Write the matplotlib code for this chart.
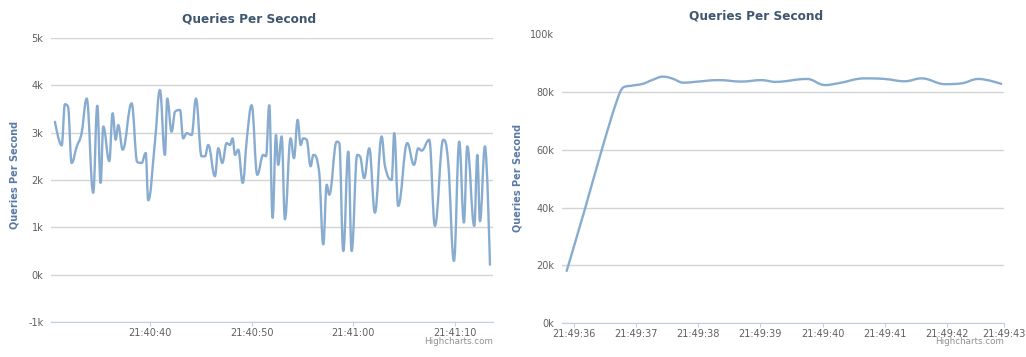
import matplotlib.pyplot as plt
from matplotlib.path import Path
from matplotlib.patches import PathPatch
from matplotlib.ticker import FuncFormatter

# Left chart: seconds after 21:40:00 and queries per second
left_time = [30.66, 31.32, 31.64, 31.94, 32.30, 32.79, 33.28, 33.78, 34.42, 34.82,
             35.15, 35.41, 36.00, 36.33, 36.63, 36.88, 37.32, 38.20, 38.75, 39.18,
             39.58, 39.83, 40.49, 40.98, 41.47, 41.70, 42.13, 42.46, 42.95, 43.27,
             43.61, 44.10, 44.52, 45.08, 45.41, 45.73, 46.39, 46.72, 47.11, 47.54,
             47.87, 48.13, 48.36, 48.68, 49.12, 49.54, 50.00, 50.55, 51.14, 51.41,
             51.73, 52.06, 52.39, 52.61, 52.95, 53.27, 53.83, 54.16, 54.52, 54.82,
             55.07, 55.41, 55.80, 56.06, 56.65, 57.04, 57.38, 57.63, 58.36, 58.61,
             59.01, 59.50, 59.83, 60.38, 60.65, 61.07, 61.56, 62.12, 62.78, 63.11,
             63.77, 64.02, 64.41, 65.30, 65.96, 66.38, 66.71, 67.46, 68.02, 68.84,
             69.33, 69.89, 70.41, 70.87, 71.20, 71.89, 72.19, 72.45, 72.94, 73.43]
left_qps = [3230, 2730, 3600, 3550, 2360, 2700, 2990, 3720, 1730, 3570,
            1940, 3130, 2400, 3410, 2850, 3160, 2640, 3620, 2380, 2360,
            2570, 1570, 2800, 3900, 2530, 3720, 3020, 3440, 3480, 2880,
            2990, 2950, 3720, 2500, 2500, 2740, 2080, 2670, 2360, 2780,
            2740, 2880, 2530, 2640, 1940, 2900, 3580, 2110, 2530, 2500,
            3580, 1200, 2950, 2320, 2920, 1170, 2880, 2460, 3270, 2740,
            2880, 2850, 2290, 2530, 2150, 640, 1900, 1690, 2810, 2780,
            500, 2600, 500, 2530, 2500, 2040, 2670, 1310, 2920, 2290,
            2000, 2990, 1450, 2780, 2320, 2670, 2620, 2850, 1030, 2850,
            2360, 290, 2810, 1100, 2710, 1030, 2530, 1130, 2710, 210]

# Right chart: seconds after 21:49:00 and queries per second
right_time = [35.89, 36.19, 36.46, 36.70, 36.80, 36.94, 37.11, 37.26, 37.44, 37.58,
              37.77, 37.95, 38.33, 38.70, 39.02, 39.24, 39.75, 40.04, 40.25, 40.68,
              41.00, 41.32, 41.59, 41.97, 42.24, 42.50, 42.87]
right_qps = [18100, 40000, 60400, 77100, 81500, 82100, 82700, 84000, 85200, 84600,
             83100, 83400, 84000, 83500, 84000, 83400, 84400, 82300, 82900, 84600,
             84400, 83600, 84600, 82600, 82900, 84400, 82700]

left_ticks = [40, 50, 60, 70]
left_tick_labels = ["21:40:40", "21:40:50", "21:41:00", "21:41:10"]
right_ticks = [36, 37, 38, 39, 40, 41, 42, 42.92]
right_tick_labels = ["21:49:36", "21:49:37", "21:49:38", "21:49:39",
                     "21:49:40", "21:49:41", "21:49:42", "21:49:43"]

title = "Queries Per Second"
line_color = "#88acd0"
W, H = 1026, 357

plt.rcParams['font.family'] = ['DejaVu Sans']
fig = plt.figure(figsize=(W / 100, H / 100), dpi=100)


def px_axes(x0, y0, x1, y1):
    return fig.add_axes([x0 / W, 1 - y1 / H, (x1 - x0) / W, (y1 - y0) / H])


def spline(ax, xs, ys):
    # highcharts style spline: bezier control points around each point
    sm = 1.5
    n = len(xs)
    left = [(xs[0], ys[0])] * n
    right = [(xs[0], ys[0])] * n
    for i in range(n):
        left[i] = right[i] = (xs[i], ys[i])
    for i in range(1, n - 1):
        px, py = xs[i], ys[i]
        lx, ly = xs[i - 1], ys[i - 1]
        nx, ny = xs[i + 1], ys[i + 1]
        lcx, lcy = (sm * px + lx) / (sm + 1), (sm * py + ly) / (sm + 1)
        rcx, rcy = (sm * px + nx) / (sm + 1), (sm * py + ny) / (sm + 1)
        if rcx != lcx:
            corr = (rcy - lcy) * (rcx - px) / (rcx - lcx) + py - rcy
            lcy += corr
            rcy += corr
            if lcy > ly and lcy > py:
                lcy = max(ly, py)
                rcy = 2 * py - lcy
            elif lcy < ly and lcy < py:
                lcy = min(ly, py)
                rcy = 2 * py - lcy
            if rcy > ny and rcy > py:
                rcy = max(ny, py)
                lcy = 2 * py - rcy
            elif rcy < ny and rcy < py:
                rcy = min(ny, py)
                lcy = 2 * py - rcy
        left[i] = (lcx, lcy)
        right[i] = (rcx, rcy)
    verts = [(xs[0], ys[0])]
    codes = [Path.MOVETO]
    for i in range(1, n):
        verts += [right[i - 1], left[i], (xs[i], ys[i])]
        codes += [Path.CURVE4] * 3
    ax.add_patch(PathPatch(Path(verts, codes), fill=False, edgecolor=line_color,
                           lw=1.7, joinstyle="round", capstyle="round"))


def style(ax, yticks, xticks, xlabels):
    ax.set_yticks(yticks)
    ax.yaxis.set_major_formatter(FuncFormatter(lambda v, p: f"{int(round(v / 1000))}k"))
    ax.set_xticks(xticks)
    ax.set_xticklabels(xlabels)
    for s in ["top", "right", "left"]:
        ax.spines[s].set_visible(False)
    ax.spines["bottom"].set_color("#c0d0e0")
    ax.grid(axis="y", color="#d4d4d4", lw=1)
    ax.set_axisbelow(True)
    ax.tick_params(axis="y", length=0, pad=5.5, labelsize=7, labelcolor="#606060")
    ax.tick_params(axis="x", length=3, pad=1.2, color="#c0d0e0", labelsize=7,
                   labelcolor="#606060")


# left chart
ax1 = px_axes(51, 38, 493, 322)
spline(ax1, left_time, left_qps)
ax1.set_xlim(30.27, 73.73)
ax1.set_ylim(-1000, 5000)
style(ax1, range(-1000, 5001, 1000), left_ticks, left_tick_labels)
fig.text(249 / W, 1 - 19 / H, title, ha="center", va="center", fontsize=8.7,
         color="#3e576f", fontweight="bold")
fig.text(15 / W, 1 - 175 / H, title, rotation=90, ha="center", va="center",
         fontsize=7, color="#5a7aa5", fontweight="bold")
fig.text(493 / W, 1 - 341 / H, "Highcharts.com", ha="right", va="center",
         fontsize=6.3, color="#909090")

# right chart
ax2 = px_axes(561.7, 33.8, 1004.3, 323.3)
spline(ax2, right_time, right_qps)
ax2.set_xlim(35.81, 42.92)
ax2.set_ylim(0, 100000)
style(ax2, range(0, 100001, 20000), right_ticks, right_tick_labels)
ax2.get_ygridlines()[-1].set_visible(False)
fig.text(756 / W, 1 - 16 / H, title, ha="center", va="center", fontsize=8.7,
         color="#3e576f", fontweight="bold")
fig.text(518 / W, 1 - 178 / H, title, rotation=90, ha="center", va="center",
         fontsize=7, color="#5a7aa5", fontweight="bold")
fig.text(1004 / W, 1 - 342 / H, "Highcharts.com", ha="right", va="center",
         fontsize=6.3, color="#909090")

fig.savefig("out.png", dpi=100)
